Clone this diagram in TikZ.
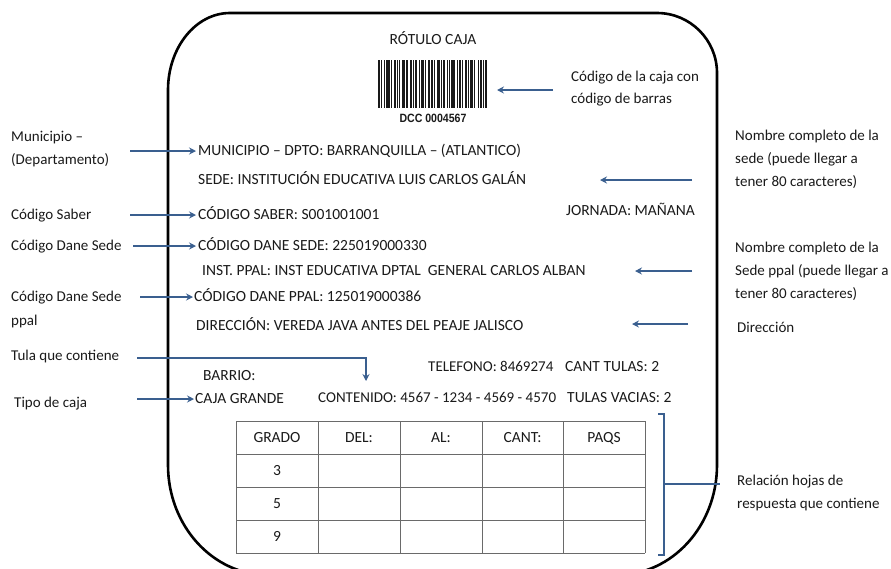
\documentclass[tikz,border=0pt]{standalone}
\usepackage{fontspec}
\setmainfont{Carlito}
\newfontfamily\dccfont{Liberation Sans}[FakeStretch=0.88]
\usetikzlibrary{arrows.meta}
\definecolor{arrowblue}{HTML}{3A5F8F}
\definecolor{txt}{HTML}{1A1A1A}
\definecolor{grid}{HTML}{6A6A6A}
\begin{document}
\begin{tikzpicture}[x=1pt,y=-1pt,
  lbl/.style={anchor=west, inner sep=0pt, text height=9.6pt, text depth=0pt, font=\fontsize{15}{18}\selectfont, text=txt},
  fld/.style={lbl, text height=9.9pt, font=\fontsize{15.5}{18}\selectfont},
  nfld/.style={lbl, text height=9.9pt, font=\fontsize{15}{18}\selectfont},
  rfld/.style={fld, anchor=east},
  cfld/.style={fld, anchor=center},
  arr/.style={draw=arrowblue, line width=1.6pt, -{Stealth[length=7pt,width=7pt,inset=2.5pt]}},
  brk/.style={draw=arrowblue, line width=1.6pt},
  border/.style={draw=black, line width=2.6pt},
  gridline/.style={draw=grid, line width=1pt}]
\useasboundingbox (0,0) rectangle (891,568);
\fill[white] (0,0) rectangle (891,568);
\begin{scope}
\clip (0,0) rectangle (891,568);
\draw[border] (168,90) -- (168,465)
  arc[start angle=180, end angle=90, x radius=100, y radius=110] -- (617,575)
  arc[start angle=90, end angle=0, x radius=100, y radius=110] -- (717,73)
  arc[start angle=0, end angle=-90, radius=60] -- (230,13)
  arc[start angle=-90, end angle=-180, x radius=62, y radius=77] -- cycle;
\end{scope}

% title and barcode
\node[cfld] (title) at (433,40) {RÓTULO CAJA};
\foreach \w/\g [evaluate=\w as \nx using \px+(\w+\g)*1.048, remember=\nx as \px (initially 378)]
  in {2/1,1/2,1/1,3/1,1/2,2/1,1/1,1/2,3/1,2/2,1/1,1/1,2/2,1/1,3/1,1/2,2/1,1/1,1/2,3/1,1/1,2/2,1/1,1/1,3/2,1/1,2/1,1/2,2/1,1/1,3/1,1/2,1/1,2/1,1/1,2/0}
  { \fill[black!90] (\px,60) rectangle ++(\w*1.048,48); }
\node[inner sep=0pt, font=\dccfont\bfseries\fontsize{12}{14}\selectfont, text=txt] (dcc) at (433,118) {DCC 0004567};

\node[lbl] (cc1) at (571,77) {Código de la caja con};
\node[lbl] (cc2) at (571,99) {código de barras};
\coordinate (bcs) at (553,90);
\coordinate (bce) at (497,90);
\draw[arr] (bcs) -- (bce);

% left labels
\node[lbl] (lm1) at (11,137) {Municipio –};
\node[lbl] (lm2) at (11,160) {(Departamento)};
\node[lbl] (ls) at (11,215) {Código Saber};
\node[lbl] (ld) at (11,246) {Código Dane Sede};
\node[lbl] (lp1) at (11,297) {Código Dane Sede};
\node[lbl] (lp2) at (11,321) {ppal};
\node[lbl] (lt) at (11,356) {Tula que contiene};
\node[lbl] (lc) at (14,403) {Tipo de caja};

% fields
\node[fld] (muni) at (198,151) {MUNICIPIO – DPTO: BARRANQUILLA – (ATLANTICO)};
\node[fld] (sede) at (198,180) {SEDE: INSTITUCIÓN EDUCATIVA LUIS CARLOS GALÁN};
\node[fld] (saber) at (198,215) {CÓDIGO SABER: S001001001};
\node[rfld] (jorn) at (695,211) {JORNADA: MAÑANA};
\node[fld] (dane) at (198,246) {CÓDIGO DANE SEDE: 225019000330};
\node[fld] (inst) at (202,271) {INST. PPAL: INST EDUCATIVA DPTAL\ \ GENERAL CARLOS ALBAN};
\node[fld] (ppal) at (194,297) {CÓDIGO DANE PPAL: 125019000386};
\node[fld] (dir) at (196,326) {DIRECCIÓN: VEREDA JAVA ANTES DEL PEAJE JALISCO};
\node[fld] (barrio) at (203,376) {BARRIO:};
\node[nfld] (tel) at (428,367) {TELEFONO: 8469274};
\node[fld] (cant) at (565,367) {CANT TULAS: 2};
\node[fld] (caja) at (195,399) {CAJA GRANDE};
\node[nfld] (cont) at (318,398) {CONTENIDO: 4567 - 1234 - 4569 - 4570};
\node[fld] (vac) at (567,398) {TULAS VACIAS: 2};

% right labels
\node[lbl] (rn1) at (735,136) {Nombre completo de la};
\node[lbl] (rn2) at (735,159) {sede (puede llegar a};
\node[lbl] (rn3) at (735,182) {tener 80 caracteres)};
\node[lbl] (rp1) at (735,248) {Nombre completo de la};
\node[lbl] (rp2) at (735,271) {Sede ppal (puede llegar a};
\node[lbl] (rp3) at (735,294) {tener 80 caracteres)};
\node[lbl] (rd) at (737,328) {Dirección};
\node[lbl] (rr1) at (737,481) {Relación hojas de};
\node[lbl] (rr2) at (737,504) {respuesta que contiene};

% left arrows
\coordinate (am) at (130,151);
\draw[arr] (am) -- ([xshift=-2pt]muni.west);
\coordinate (as) at (130,215);
\draw[arr] (as) -- ([xshift=-2pt]saber.west);
\coordinate (ad) at (133,246);
\draw[arr] (ad) -- ([xshift=-2pt]dane.west);
\coordinate (ap) at (140,297);
\draw[arr] (ap) -- ([xshift=-1pt]ppal.west);
\coordinate (at0) at (137,358);
\coordinate (at1) at (366,381);
\draw[arr] (at0) -| (at1);
\coordinate (ac) at (137,399);
\draw[arr] (ac) -- ([xshift=-1pt]caja.west);

% right arrows
\coordinate (rs0) at (692,180);
\coordinate (rs1) at (600,180);
\draw[arr] (rs0) -- (rs1);
\coordinate (ri0) at (692,271);
\coordinate (ri1) at (635,271);
\draw[arr] (ri0) -- (ri1);
\coordinate (rd0) at (688,324);
\coordinate (rd1) at (632,324);
\draw[arr] (rd0) -- (rd1);

% table
\foreach \xx in {236,318,400,482,563,645} { \draw[gridline] (\xx,421) -- (\xx,553); }
\foreach \yy in {421,454,487,520,553} { \draw[gridline] (236,\yy) -- (645,\yy); }
\node[cfld] (hg) at (277,437.5) {GRADO};
\node[cfld] (hd) at (359,437.5) {DEL:};
\node[cfld] (ha) at (441,437.5) {AL:};
\node[cfld] (hc) at (522.5,437.5) {CANT:};
\node[cfld] (hp) at (604,437.5) {PAQS};
\node[cfld] (g3) at (277,470.5) {3};
\node[cfld] (g5) at (277,503.5) {5};
\node[cfld] (g9) at (277,536.5) {9};

% bracket
\coordinate (b1) at (658,414);
\coordinate (b2) at (664,414);
\coordinate (b3) at (664,555);
\coordinate (b4) at (658,555);
\draw[brk] (b1) -- (b2) -- (b3) -- (b4);
\coordinate (bm) at (664,484);
\coordinate (be) at (720,484);
\draw[brk] (bm) -- (be);
\end{tikzpicture}
\end{document}
